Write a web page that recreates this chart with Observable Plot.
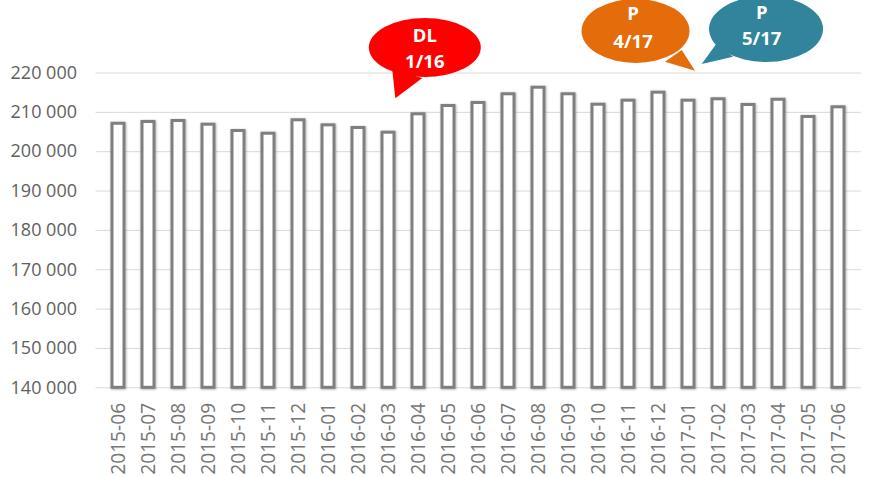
<!DOCTYPE html>
<html>
<head>
<meta charset="utf-8">
<script src="https://cdn.jsdelivr.net/npm/d3@7"></script>
<script src="https://cdn.jsdelivr.net/npm/@observablehq/plot@0.6"></script>
<style>
  html, body { margin: 0; padding: 0; background: #fff; }
  #chart svg { display: block; overflow: hidden; }
</style>
</head>
<body>
<div id="chart"></div>
<script>
// ---- data ----
const months = [
  "2015-06","2015-07","2015-08","2015-09","2015-10","2015-11","2015-12",
  "2016-01","2016-02","2016-03","2016-04","2016-05","2016-06","2016-07",
  "2016-08","2016-09","2016-10","2016-11","2016-12",
  "2017-01","2017-02","2017-03","2017-04","2017-05","2017-06"
];
const values = [
  207100, 207550, 207800, 206860, 205260, 204570, 207980,
  206700, 206020, 204830, 209500, 211610, 212380, 214590,
  216260, 214590, 211940, 212960, 215000,
  212960, 213320, 211870, 213200, 208820, 211280
];
const yTicks = [140000, 150000, 160000, 170000, 180000, 190000, 200000, 210000, 220000];

// annotations (speech bubbles): label lines, anchor month and value of the tail tip
const noteLabels = [["DL", "1/16"], ["P", "4/17"], ["P", "5/17"]];
const noteMonths = ["2016-03", "2017-01", "2017-01"];
const noteValues = [213440, 220460, 222160];
const noteColors = ["#ff0000", "#e46c0a", "#31849b"];

const data = months.map((m, i) => ({month: m, value: values[i]}));
const fmt = d => d3.format(",")(d).replace(/,/g, "\u00a0");

const W = 869, H = 477;
const chart = Plot.plot({
  width: W,
  height: H,
  marginLeft: 95.5,
  marginRight: 8.2,
  marginTop: 72.5,
  marginBottom: 89.7,
  style: {fontFamily: "'Open Sans', sans-serif", fontSize: "18px", color: "#606060", background: "#fff"},
  x: {domain: months, paddingInner: 0.608, paddingOuter: 0.304, tickRotate: -90, tickSize: 0, tickPadding: 15, label: null},
  y: {domain: [140000, 220000], ticks: yTicks, tickFormat: fmt, tickSize: 0, tickPadding: 19, label: null},
  marks: [
    Plot.ruleY(yTicks, {stroke: "#d9d9d9", strokeWidth: 1}),
    Plot.barY(data, {x: "month", y1: 140000, y2: "value", fill: "#fff", stroke: "#7f7f7f", strokeWidth: 3})
  ]
});
document.getElementById("chart").appendChild(chart);

const svg = d3.select(chart);
// x tick labels: slightly larger and lighter
svg.selectAll("g[aria-label='x-axis tick label'] text, g[aria-label='x-axis'] text")
  .attr("font-size", "19.2px").attr("fill", "#767676");

// soft shadow on bars
const defs = svg.append("defs");
const f = defs.append("filter").attr("id", "barShadow").attr("x", "-50%").attr("y", "-10%").attr("width", "200%").attr("height", "120%");
f.append("feDropShadow").attr("dx", 0.6).attr("dy", 0.6).attr("stdDeviation", 0.9).attr("flood-color", "#000").attr("flood-opacity", 0.35);
svg.selectAll("g[aria-label='bar'] rect").attr("filter", "url(#barShadow)");

// scales for the annotations
const sx = chart.scale("x"), sy = chart.scale("y");
const xb = d3.scaleBand().domain(sx.domain).range(sx.range)
  .paddingInner(sx.paddingInner).paddingOuter(sx.paddingOuter).align(sx.align ?? 0.5);
const yl = d3.scaleLinear().domain(sy.domain).range(sy.range);

// bubble geometry relative to the tail tip (pixels)
const bubbleLayout = [
  {dx: 9,  cx: 29.5,  cy: -50.8, rx: 56, ry: 29.5, b1: [-3, -28.3],   b2: [27, -20.3],  tx: 0,    t1: -12.5, t2: 13.5},
  {dx: 2.6, cx: -59.5, cy: -39.7, rx: 54, ry: 32,  b1: [-13.3, -20.7], b2: [-30, -9],   tx: -2.5, t1: -17.5, t2: 10.7},
  {dx: 9.3, cx: 64.3,  cy: -35,   rx: 57, ry: 33,  b1: [15, -20.7],   b2: [31.3, -7.3], tx: -4.3, t1: -16.8, t2: 9.6}
];

const gNotes = svg.append("g").attr("class", "notes");
noteLabels.forEach((lines, i) => {
  const L = bubbleLayout[i];
  const tipX = xb(noteMonths[i]) + xb.bandwidth() / 2 + L.dx;
  const tipY = yl(noteValues[i]);
  const cx = tipX + L.cx, cy = tipY + L.cy;
  const g = gNotes.append("g");
  g.append("ellipse").attr("cx", cx).attr("cy", cy).attr("rx", L.rx).attr("ry", L.ry).attr("fill", noteColors[i]);
  g.append("path")
    .attr("d", `M${tipX + L.b1[0]},${tipY + L.b1[1]}L${tipX},${tipY}L${tipX + L.b2[0]},${tipY + L.b2[1]}Z`)
    .attr("fill", noteColors[i]);
  [L.t1, L.t2].forEach((ty, j) => {
    g.append("text")
      .attr("x", cx + L.tx).attr("y", cy + ty).attr("dy", "0.36em")
      .attr("text-anchor", "middle")
      .attr("fill", "#fff")
      .attr("font-family", "'Open Sans', sans-serif")
      .attr("font-weight", "bold")
      .attr("font-size", "18.5px")
      .text(lines[j]);
  });
});
</script>
</body>
</html>
